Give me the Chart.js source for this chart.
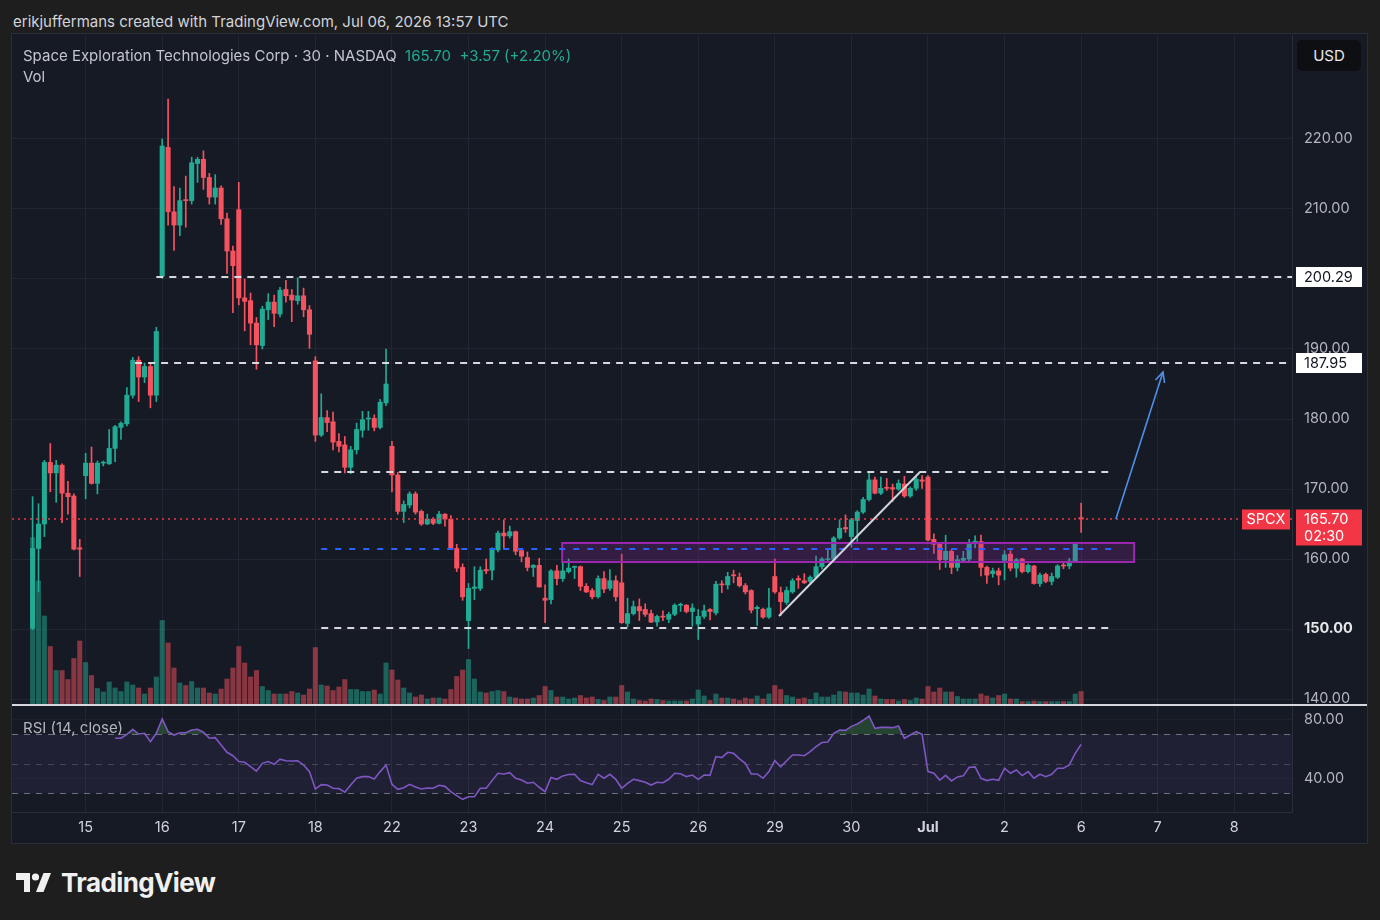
<!DOCTYPE html>
<html><head><meta charset="utf-8">
<script src="https://cdn.jsdelivr.net/npm/chart.js@4.4.1/dist/chart.umd.min.js"></script>
<style>
html,body{margin:0;padding:0;background:#1e1e1e;width:1380px;height:920px;overflow:hidden;font-family:Inter,'Noto Sans',sans-serif;}
.abs{position:absolute;white-space:nowrap;}
#credit{left:13px;top:12px;color:#d1d4dc;font-size:15px;line-height:20px;}
#panel{position:absolute;left:12px;top:34px;width:1355px;height:809px;background:#161a25;box-shadow:0 0 0 1px #2a2e39;}
#title{left:23px;top:46px;color:#c3c6ce;font-size:15px;line-height:20px;}
#title .g{color:#22ab94;}
#vol{left:23px;top:67px;color:#c3c6ce;font-size:15px;line-height:20px;}
#rsiLbl{left:23px;top:719px;color:#b2b5be;font-size:15px;line-height:18px;}
#sep{position:absolute;left:12px;top:704px;width:1355px;height:2px;background:#d6d8de;}
#usd{left:1297px;top:40px;width:64px;height:31px;background:#0e0f13;border-radius:5px;color:#e8e9ec;font-size:15px;line-height:31px;text-align:center;}
canvas{position:absolute;}
#main{left:12px;top:35px;}
#rsi{left:12px;top:706px;}
#logo{left:15px;top:871px;}
#logoTxt{left:61px;top:866px;color:#f0f0f0;font-size:26px;font-weight:700;letter-spacing:-0.6px;line-height:34px;}
</style></head>
<body>
<div id="credit" class="abs">erikjuffermans created with TradingView.com, Jul 06, 2026 13:57 UTC</div>
<div id="panel"></div>
<canvas id="main" width="1355" height="670"></canvas>
<canvas id="rsi" width="1355" height="137"></canvas>
<div id="sep"></div>
<div id="title" class="abs">Space Exploration Technologies Corp · 30 · NASDAQ&nbsp; <span class="g">165.70&nbsp; +3.57 (+2.20%)</span></div>
<div id="vol" class="abs">Vol</div>
<div id="rsiLbl" class="abs">RSI (14, close)</div>
<div id="usd" class="abs">USD</div>
<svg id="logo" class="abs" width="38" height="22" viewBox="0 0 38 22"><path fill="#f0f0f0" d="M15 21H9V9H1V2h14z"/><circle fill="#f0f0f0" cx="20.5" cy="6" r="3.6"/><path fill="#f0f0f0" d="M21 21h7.5L36 2h-7.5z"/></svg>
<div id="logoTxt" class="abs">TradingView</div>
<script>
// ---- time axis ----
const dayLabels = ['15','16','17','18','22','23','24','25','26','29','30','Jul','2','6','7','8'];
const dayFirstBar = [9,22,35,48,61,74,87,100,113,126,139,152,165,178,191,204];

// ---- 30-minute candles ----
const opens = [
150.1,161.5,165.0,173.8,172.3,173.4,169.4,169.0,161.6,171.9,
173.7,170.8,173.7,173.6,175.8,178.8,179.3,183.4,188.4,186.0,
187.5,183.4,200.4,218.8,209.6,207.7,211.3,211.2,216.5,217.1,
214.5,211.7,213.0,208.6,204.0,209.9,197.3,196.9,193.7,190.5,
195.6,196.7,195.0,198.5,197.7,196.9,197.6,195.6,188.3,177.7,
180.2,179.6,176.8,176.3,173.1,175.6,178.4,180.0,180.1,178.8,
182.3,176.1,172.0,166.8,167.7,169.3,166.8,165.0,165.7,165.1,
166.4,165.7,161.5,158.8,151.2,155.8,155.8,158.5,158.4,161.3,
163.7,163.3,163.9,161.2,160.2,158.8,159.1,154.4,154.2,158.3,
157.2,158.2,158.8,158.9,156.1,155.5,154.6,157.2,155.8,156.9,
156.6,150.8,152.2,153.2,152.8,152.2,151.0,151.8,151.4,152.1,
153.4,153.4,152.5,150.7,151.8,152.8,152.3,156.4,156.3,157.7,
157.4,156.2,155.5,152.9,152.8,151.7,157.5,155.2,153.8,155.3,
157.2,156.9,156.8,157.4,158.9,159.9,160.0,163.0,164.5,163.2,
165.5,166.7,168.5,171.3,169.4,170.2,170.2,170.0,170.7,169.0,
170.1,171.3,171.7,162.8,162.1,159.9,161.1,158.8,159.8,160.0,
162.4,162.5,158.8,157.9,158.3,159.8,160.7,158.7,160.0,158.2,
159.0,156.5,157.8,156.8,157.4,159.1,159.0,159.7,165.9];
const highs = [
168.9,167.9,174.1,176.5,174.1,173.6,171.1,169.3,162.8,175.1,
176.0,174.0,174.0,178.5,179.1,179.6,184.5,188.8,188.9,188.0,
188.0,193.1,220.0,225.7,213.2,213.0,214.7,217.4,217.4,218.3,
215.1,214.9,213.3,209.4,204.7,213.8,200.0,198.0,194.5,196.1,
197.9,197.7,198.8,199.8,198.5,200.2,198.7,196.2,188.9,183.6,
181.2,181.0,177.9,177.5,176.1,179.4,181.1,181.1,180.6,182.8,
190.0,176.8,172.4,168.3,169.6,169.6,167.0,166.4,165.9,166.8,
166.5,166.2,162.1,159.3,156.5,158.9,158.9,160.0,161.6,164.0,
165.6,164.7,164.0,161.5,161.0,159.2,160.1,156.3,158.5,159.1,
159.6,160.0,159.0,159.0,156.5,155.8,157.6,158.2,158.5,157.6,
160.7,154.4,154.0,154.3,153.6,152.7,152.0,152.6,152.4,153.6,
153.7,153.5,153.6,152.8,153.4,152.9,156.8,156.9,158.1,158.4,
158.0,156.5,155.6,153.3,153.0,155.8,160.0,156.0,156.0,157.2,
157.6,157.9,157.6,160.4,160.2,161.4,163.2,165.6,166.3,165.8,
166.9,168.8,172.3,171.7,171.7,171.5,170.7,171.3,171.8,170.3,
171.7,171.9,171.9,163.6,162.3,163.4,161.4,160.5,161.1,162.8,
163.3,163.4,159.0,158.7,158.7,161.2,161.2,160.1,160.1,159.3,
159.1,158.0,158.0,158.0,159.2,159.6,160.1,162.2,168.0];
const lows = [
149.9,155.3,163.2,169.6,168.1,165.2,166.4,161.3,157.5,168.6,
170.7,169.3,173.3,173.5,173.9,177.1,179.0,183.0,182.5,185.2,
181.6,182.5,200.1,207.7,204.1,206.2,207.4,210.7,213.8,212.8,
210.7,210.7,207.8,200.8,195.2,196.3,192.6,190.6,187.1,190.0,
194.2,193.2,194.6,196.7,193.9,196.4,194.6,190.1,176.8,177.5,
178.2,175.6,175.3,172.3,172.2,175.0,177.4,178.4,178.3,178.6,
181.9,169.6,166.4,165.2,167.3,166.4,164.8,164.9,164.9,165.0,
164.7,161.4,158.2,154.1,147.2,154.2,155.5,157.9,157.0,161.0,
161.5,163.0,160.6,159.6,158.3,157.5,156.0,150.9,153.6,156.3,
156.8,158.0,157.2,155.5,155.2,154.3,154.4,155.2,155.5,154.0,
150.8,150.3,152.0,151.2,151.8,150.9,150.4,151.2,150.9,151.9,
152.5,152.3,150.4,148.5,151.5,151.3,152.0,155.2,155.7,156.6,
156.0,155.0,152.3,150.5,151.5,151.5,155.1,151.9,153.5,155.1,
155.8,156.5,156.5,157.2,158.6,159.7,159.8,162.8,163.8,161.7,
162.5,166.5,168.3,169.3,169.2,169.8,168.2,169.8,168.8,168.8,
169.8,170.1,162.6,160.8,158.5,158.8,157.9,158.3,159.6,159.6,
161.6,157.6,156.5,157.4,156.3,157.0,158.3,157.4,158.0,158.0,
156.4,156.1,156.6,156.3,157.2,158.6,158.6,159.6,163.8];
const closes = [
161.5,165.0,173.8,172.3,173.4,169.4,168.9,161.4,161.4,173.7,
170.8,173.7,173.8,175.8,178.9,179.4,183.4,188.4,186.0,187.5,
183.4,192.5,219.0,209.6,207.7,211.2,211.2,216.6,217.1,214.5,
211.7,213.0,208.6,204.0,201.9,197.3,196.8,193.7,190.6,195.7,
196.7,195.1,198.4,197.6,197.0,197.6,195.6,192.1,177.7,180.2,
179.5,176.7,176.1,173.1,175.6,178.5,179.9,180.1,178.8,182.4,
185.0,172.0,166.8,167.8,169.3,166.7,165.0,165.7,165.1,166.4,
165.7,161.5,158.7,154.6,155.8,156.0,158.4,158.3,161.4,163.7,
163.3,163.9,161.1,160.4,158.8,159.1,156.0,154.1,158.3,157.2,
158.3,158.7,158.9,156.1,155.3,154.6,157.2,155.7,156.9,154.6,
150.9,152.2,153.2,152.6,152.1,151.0,151.8,151.7,152.1,153.4,
153.5,152.5,153.0,151.8,152.6,152.5,156.4,156.3,157.5,157.6,
156.2,155.3,152.7,153.1,151.7,153.0,155.3,153.9,155.5,156.9,
157.0,156.6,157.4,158.9,160.0,160.0,163.0,164.4,164.3,165.6,
166.7,168.5,171.3,169.4,170.1,170.1,170.0,170.8,169.0,170.1,
171.4,171.1,162.7,162.1,159.9,161.1,158.8,159.9,160.1,162.2,
162.5,158.8,157.7,158.3,157.7,160.6,158.7,159.9,158.2,159.1,
156.5,157.7,156.8,157.5,159.0,159.0,159.7,162.13,165.7];
// volume (thousand shares)
const volumes = [
3350,2480,1780,1170,690,690,510,930,1280,850,
590,330,260,460,340,270,460,400,340,220,
340,560,1690,1240,740,440,390,470,340,340,
240,220,320,520,740,1170,840,560,690,370,
290,220,220,220,270,240,200,320,1150,400,
380,290,360,510,310,310,270,270,300,220,
840,700,500,340,240,160,200,120,140,140,
120,310,570,700,910,520,260,240,270,290,
270,160,140,120,120,140,190,370,290,160,
160,120,140,190,140,160,110,90,160,160,
390,260,120,90,80,120,110,90,80,80,
80,80,120,300,180,90,220,140,140,120,
90,140,120,180,120,220,390,310,190,160,
120,140,110,240,160,160,200,270,260,240,
240,200,320,180,120,110,110,80,110,90,
140,120,370,260,340,260,260,170,120,120,
120,220,180,140,190,220,120,120,70,70,
80,70,70,70,70,70,70,220,270];
// RSI(14, close), first value on bar 14
const rsiFirstBar = 14;
const rsiValues = [
67.3,67.3,70.0,73.4,70.2,70.7,65.0,70.7,80.4,71.8,
69.5,71.1,71.1,72.9,73.4,71.4,67.3,67.7,62.8,57.8,
55.5,51.5,51.0,48.1,45.1,50.3,51.5,49.7,53.1,52.1,
51.9,52.1,49.2,44.7,32.9,35.9,35.6,33.4,33.2,30.7,
35.6,40.2,41.3,41.3,39.7,44.7,49.2,36.1,32.7,33.8,
36.1,34.3,32.9,33.6,33.4,35.4,34.7,31.1,28.4,25.9,
27.7,27.7,33.4,33.4,38.6,43.6,43.1,44.0,40.2,39.0,
36.8,37.5,34.1,31.1,40.8,39.5,41.8,42.7,42.9,38.6,
37.2,35.9,42.9,40.2,42.9,39.5,33.4,36.8,39.5,38.6,
37.5,35.6,37.5,37.2,39.5,43.6,43.3,41.3,42.4,39.5,
42.4,42.2,54.9,54.2,57.8,57.1,53.3,50.3,43.1,43.1,
40.2,44.7,52.1,47.9,52.1,56.0,56.0,55.5,58.2,61.6,
64.4,64.8,70.7,72.9,72.7,75.4,77.0,79.5,82.4,74.1,
74.7,74.7,74.5,75.6,67.3,69.5,71.8,70.0,44.7,43.6,
39.0,42.2,38.4,41.1,41.8,47.6,47.9,40.2,38.6,39.5,
38.8,47.0,43.6,45.8,42.0,44.7,40.2,42.9,41.3,42.9,
47.0,47.0,49.2,57.1,63.2];
const priceTicks = [140,150,160,170,180,190,200,210,220];
const rsiTicks = [80,40];
const rsiLevels = [70,50,30];

// ---- drawings (bar index / price coordinates) ----
const levelPrices = [200.29,187.95,172.5,150.1];
const levelFrom = [21,17.4,49,49];
const levelTo = [213.8,213.8,183.6,183.6];
const levelTagged = [true,true,false,false];
const blueLevel = {price:161.43, from:49, to:183.6};
const zone = {from:89.9, to:187.0, top:162.29, bottom:159.57};
const trendLine = {x1:126.7, y1:151.86, x2:150.6, y2:172.4};
const arrowLine = {x1:183.9, y1:165.7, x2:191.9, y2:186.7};
const lastPrice = 165.70;
const symbol = 'SPCX';
const countdown = '02:30';

// ---- styling ----
const UP = '#22ab94', DN = '#f7525f';
const FONT = 'Inter, "Noto Sans", sans-serif';
Chart.defaults.font.family = FONT;
const isUp = opens.map((o,i)=>closes[i]>=o);
const X_MIN = -3.5, X_MAX = 213.8;
const GRID = '#222633';

function fixY(s){ s.width = 75; s.paddingTop = 0; s.paddingBottom = 0; }
function fixX(h){ return s=>{ s.height = h; s.paddingLeft = 0; s.paddingRight = 0; }; }

const drawings = {
  id:'drawings',
  afterDatasetsDraw(chart){
    const {ctx, chartArea:a, scales:{x,y}} = chart;
    ctx.save();
    ctx.beginPath(); ctx.rect(a.left,a.top,a.right-a.left,a.bottom-a.top); ctx.clip();
    // current price dotted line
    ctx.strokeStyle = '#f23645'; ctx.lineWidth = 1.3; ctx.setLineDash([2,4]);
    let py = Math.round(y.getPixelForValue(lastPrice));
    ctx.beginPath(); ctx.moveTo(a.left,py); ctx.lineTo(a.right,py); ctx.stroke();
    // zone
    const zx1 = x.getPixelForValue(zone.from), zx2 = x.getPixelForValue(zone.to);
    const zy1 = y.getPixelForValue(zone.top), zy2 = y.getPixelForValue(zone.bottom);
    ctx.setLineDash([]);
    ctx.fillStyle = 'rgba(156,39,176,0.22)';
    ctx.fillRect(zx1,zy1,zx2-zx1,zy2-zy1);
    ctx.strokeStyle = '#9c27b0'; ctx.lineWidth = 2;
    ctx.strokeRect(zx1,zy1,zx2-zx1,zy2-zy1);
    // blue dashed level
    ctx.strokeStyle = '#2962ff'; ctx.lineWidth = 2; ctx.setLineDash([6,8]);
    let by = y.getPixelForValue(blueLevel.price);
    ctx.beginPath(); ctx.moveTo(x.getPixelForValue(blueLevel.from),by); ctx.lineTo(x.getPixelForValue(blueLevel.to),by); ctx.stroke();
    // white dashed levels
    ctx.strokeStyle = 'rgba(225,227,232,0.95)'; ctx.lineWidth = 2; ctx.setLineDash([7,6]);
    levelPrices.forEach((p,i)=>{
      const ly = Math.round(y.getPixelForValue(p));
      ctx.beginPath(); ctx.moveTo(x.getPixelForValue(levelFrom[i]),ly); ctx.lineTo(x.getPixelForValue(levelTo[i]),ly); ctx.stroke();
    });
    // trend line
    ctx.setLineDash([]); ctx.strokeStyle = '#d1d4dc'; ctx.lineWidth = 2;
    ctx.beginPath();
    ctx.moveTo(x.getPixelForValue(trendLine.x1), y.getPixelForValue(trendLine.y1));
    ctx.lineTo(x.getPixelForValue(trendLine.x2), y.getPixelForValue(trendLine.y2));
    ctx.stroke();
    // arrow
    const ax1 = x.getPixelForValue(arrowLine.x1), ay1 = y.getPixelForValue(arrowLine.y1);
    const ax2 = x.getPixelForValue(arrowLine.x2), ay2 = y.getPixelForValue(arrowLine.y2);
    ctx.strokeStyle = '#4f8fe6'; ctx.lineWidth = 1.6;
    ctx.beginPath(); ctx.moveTo(ax1,ay1); ctx.lineTo(ax2,ay2); ctx.stroke();
    const ang = Math.atan2(ay2-ay1, ax2-ax1), hl = 11;
    ctx.beginPath();
    ctx.moveTo(ax2 - hl*Math.cos(ang-0.45), ay2 - hl*Math.sin(ang-0.45));
    ctx.lineTo(ax2,ay2);
    ctx.lineTo(ax2 - hl*Math.cos(ang+0.45), ay2 - hl*Math.sin(ang+0.45));
    ctx.stroke();
    ctx.restore();

    // price-scale tags
    ctx.save();
    ctx.font = '14.5px ' + FONT; ctx.textBaseline = 'middle';
    const tagL = a.right + 4, tagW = 66;
    levelPrices.forEach((p,i)=>{
      if(!levelTagged[i]) return;
      const ly = Math.round(y.getPixelForValue(p));
      ctx.fillStyle = '#ffffff'; ctx.fillRect(tagL, ly-10, tagW, 20);
      ctx.fillStyle = '#131722'; ctx.textAlign = 'left';
      ctx.fillText(p.toFixed(2), tagL+8, ly+1);
    });
    ctx.fillStyle = '#f23645';
    ctx.fillRect(tagL, py-9.5, tagW, 36);
    ctx.fillStyle = '#ffffff'; ctx.textAlign='left';
    ctx.fillText(lastPrice.toFixed(2), tagL+8, py+1);
    ctx.fillText(countdown, tagL+8, py+18);
    ctx.fillStyle = '#f23645';
    ctx.fillRect(a.right-50, py-9.5, 48, 20);
    ctx.fillStyle = '#ffffff'; ctx.textAlign='center';
    ctx.fillText(symbol, a.right-26, py+1);
    ctx.restore();
  }
};

new Chart(document.getElementById('main'), {
  type:'bar',
  data:{datasets:[
    {label:'Vol', yAxisID:'yv', order:3, grouped:false, barThickness:4.4,
     data: volumes.map((v,i)=>({x:i,y:v})),
     backgroundColor: isUp.map(u=>u?'rgba(34,171,148,0.5)':'rgba(247,82,95,0.5)')},
    {label:'wick', yAxisID:'y', order:2, grouped:false, barThickness:1,
     data: lows.map((l,i)=>({x:i,y:[l,highs[i]]})),
     backgroundColor: isUp.map(u=>u?UP:DN)},
    {label:'body', yAxisID:'y', order:1, grouped:false, barThickness:4.4, minBarLength:1,
     data: opens.map((o,i)=>({x:i,y:[o,closes[i]]})),
     backgroundColor: isUp.map(u=>u?UP:DN)}
  ]},
  options:{
    responsive:false, animation:false, devicePixelRatio:1,
    layout:{padding:0},
    plugins:{legend:{display:false}, tooltip:{enabled:false}},
    scales:{
      x:{type:'linear', min:X_MIN, max:X_MAX, offset:false,
         grid:{color:GRID, drawTicks:false, offset:false}, border:{display:false},
         ticks:{display:false, autoSkip:false},
         afterBuildTicks:s=>{ s.ticks = dayFirstBar.map(v=>({value:v})); },
         afterFit:fixX(0)},
      y:{position:'right', min:139.143, max:234.857,
         grid:{color:GRID, drawTicks:false}, border:{display:true, color:'#2a2e39'},
         afterBuildTicks:s=>{ s.ticks = priceTicks.map(v=>({value:v})); },
         afterFit:fixY,
         ticks:{padding:12, callback:v=>Number(v).toFixed(2),
           color:c=> (c.tick && c.tick.value===150) ? '#e6e7ea' : '#b2b5be',
           font:c=> ({size:14.5, weight:(c.tick && c.tick.value===150)?'700':'400'})}},
      yv:{display:false, min:0, max:13400}
    }
  },
  plugins:[drawings]
});

const rsiBand = {
  id:'rsiBand',
  beforeDatasetsDraw(chart){
    const {ctx, chartArea:a, scales:{y}} = chart;
    ctx.save();
    const t = y.getPixelForValue(rsiLevels[0]), b = y.getPixelForValue(rsiLevels[2]);
    ctx.fillStyle = 'rgba(126,87,194,0.1)';
    ctx.fillRect(a.left, t, a.right-a.left, b-t);
    ctx.setLineDash([6,6]); ctx.lineWidth = 1;
    rsiLevels.forEach((lv,i)=>{
      const ly = Math.round(y.getPixelForValue(lv))+0.5;
      ctx.strokeStyle = i===1 ? 'rgba(120,123,134,0.45)' : 'rgba(140,143,154,0.75)';
      ctx.beginPath(); ctx.moveTo(a.left,ly); ctx.lineTo(a.right,ly); ctx.stroke();
    });
    ctx.restore();
  }
};

new Chart(document.getElementById('rsi'), {
  type:'line',
  data:{datasets:[{
    label:'RSI', data: rsiValues.map((v,i)=>({x:i+rsiFirstBar, y:v})),
    borderColor:'#7e57c2', borderWidth:1.6, pointRadius:0, tension:0,
    fill:{target:{value:70}, above:'rgba(76,175,80,0.28)', below:'rgba(0,0,0,0)'}
  }]},
  options:{
    responsive:false, animation:false, devicePixelRatio:1,
    layout:{padding:0},
    plugins:{legend:{display:false}, tooltip:{enabled:false}},
    scales:{
      x:{type:'linear', min:X_MIN, max:X_MAX, offset:false,
         grid:{color:GRID, drawTicks:false}, border:{display:true, color:'#2a2e39'},
         afterBuildTicks:s=>{ s.ticks = dayFirstBar.map(v=>({value:v})); },
         afterFit:fixX(31),
         ticks:{autoSkip:false, maxRotation:0, padding:7, color:'#d1d4dc',
           callback:v=>{ const k = dayFirstBar.indexOf(v); return k>=0 ? dayLabels[k] : ''; },
           font:c=> ({size:14.5, weight:(c.tick && c.tick.label==='Jul')?'700':'400'})}},
      y:{position:'right', min:17.32, max:89.19,
         grid:{color:'rgba(34,38,51,0.6)', drawTicks:false}, border:{display:true, color:'#2a2e39'},
         afterBuildTicks:s=>{ s.ticks = rsiTicks.map(v=>({value:v})); },
         afterFit:fixY,
         ticks:{padding:12, color:'#b2b5be', font:{size:14.5}, callback:v=>Number(v).toFixed(2)}}
    }
  },
  plugins:[rsiBand]
});
</script>
</body></html>
